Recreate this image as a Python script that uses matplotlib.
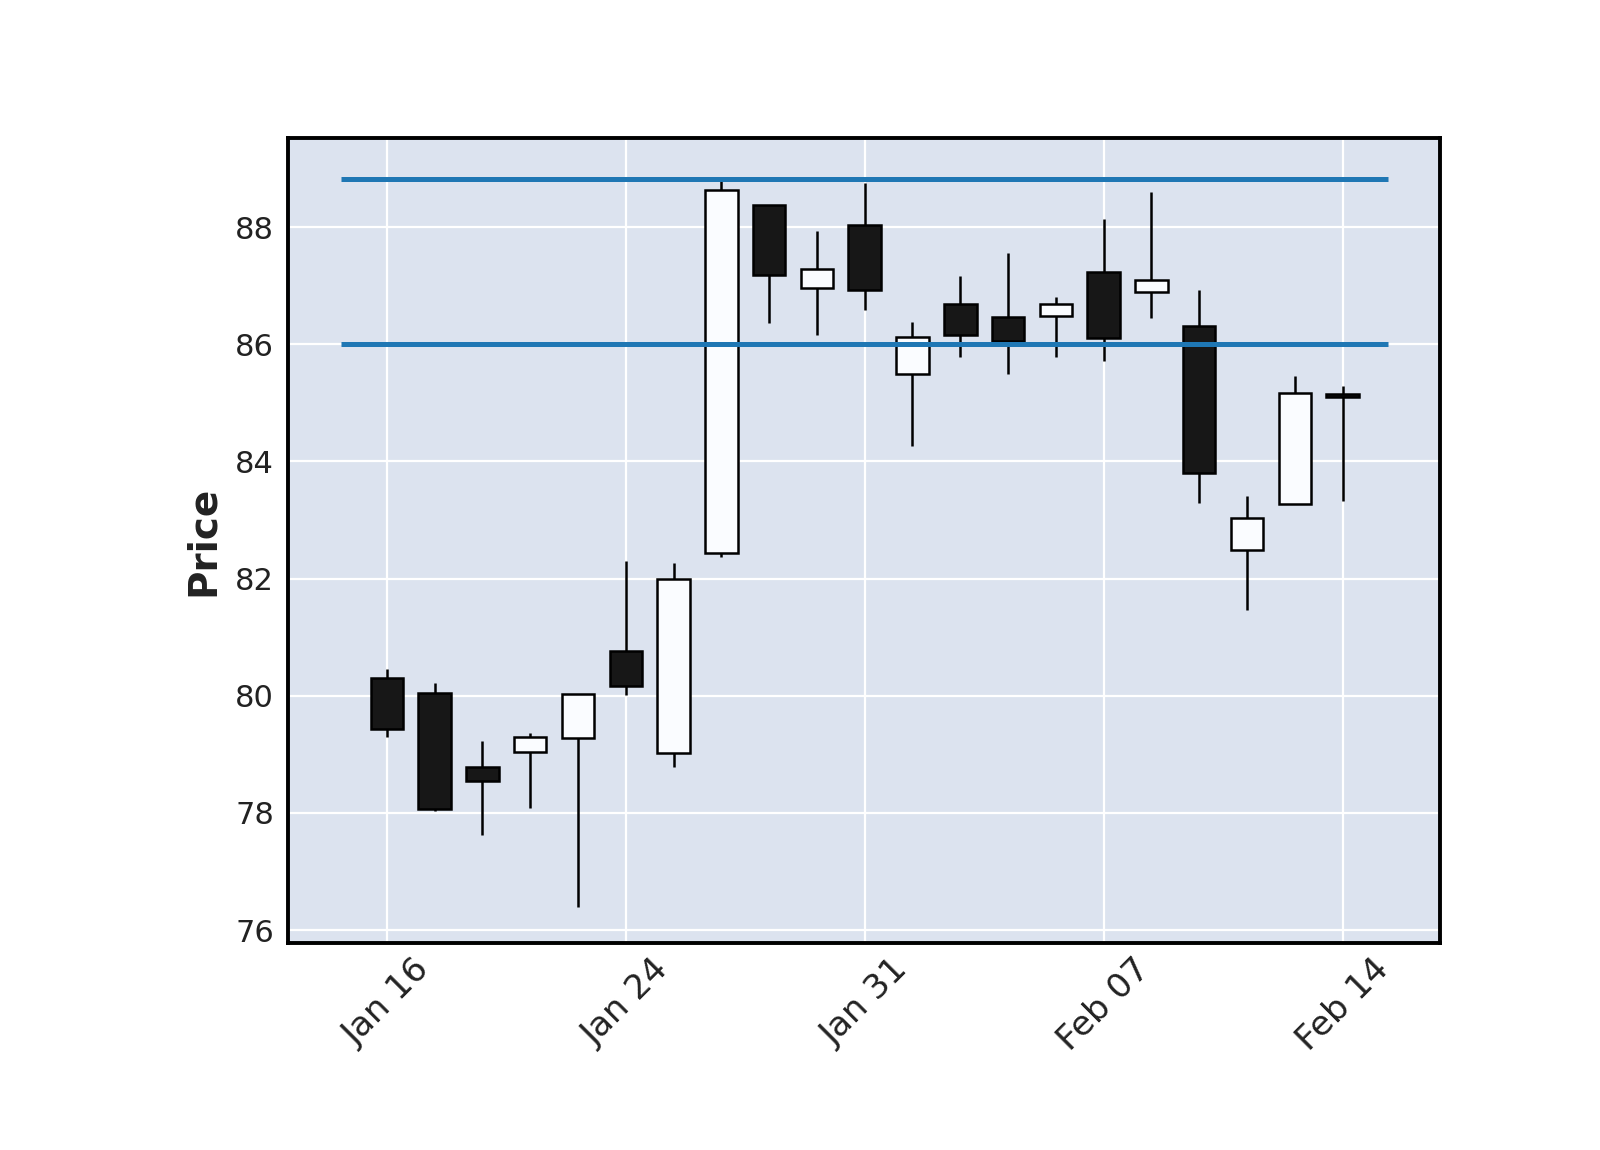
import numpy as np
import pandas as pd
import matplotlib.pyplot as plt

# daily OHLC (trading days only, plotted by index)
dates = ["2018-01-16", "2018-01-17", "2018-01-18", "2018-01-22", "2018-01-23",
         "2018-01-24", "2018-01-25", "2018-01-26", "2018-01-29", "2018-01-30",
         "2018-01-31", "2018-02-01", "2018-02-02", "2018-02-05", "2018-02-06",
         "2018-02-07", "2018-02-08", "2018-02-09", "2018-02-12", "2018-02-13",
         "2018-02-14"]
opens = [80.31, 80.05, 78.79, 79.04, 79.28, 80.76, 79.03, 82.44, 88.38, 86.96,
         88.04, 85.50, 86.69, 86.46, 86.48, 87.24, 86.89, 86.31, 82.49, 83.28, 85.15]
highs = [80.46, 80.21, 79.22, 79.37, 80.03, 82.30, 82.27, 88.80, 88.38, 87.94,
         88.76, 86.38, 87.17, 87.56, 86.81, 88.13, 88.60, 86.93, 83.41, 85.45, 85.28]
lows = [79.29, 78.03, 77.62, 78.08, 76.40, 80.01, 78.79, 82.37, 86.37, 86.15,
        86.58, 84.26, 85.78, 85.49, 85.79, 85.71, 86.44, 83.29, 81.47, 83.28, 83.32]
closes = [79.44, 78.06, 78.54, 79.29, 80.03, 80.17, 82.00, 88.63, 87.19, 87.28,
          86.93, 86.12, 86.16, 86.05, 86.68, 86.11, 87.09, 83.80, 83.04, 85.16, 85.10]
hline_levels = [88.82, 86.00]
tick_every = 5

UP_COLOR = "#fafcff"
DOWN_COLOR = "#171717"
BG_COLOR = "#dce3ef"

opens, highs, lows, closes = map(np.array, (opens, highs, lows, closes))
x = np.arange(len(dates))
up = closes >= opens

fig = plt.figure(figsize=(8, 5.75), dpi=200)
ax = fig.add_axes([0.18, 0.18, 0.72, 0.70])
ax.set_facecolor(BG_COLOR)
ax.set_axisbelow(True)
ax.grid(True, color="white", linewidth=0.8)

# wicks, then bodies on top
ax.vlines(x, lows, highs, color="black", linewidth=0.9, zorder=2)
ax.bar(x, np.abs(closes - opens), bottom=np.minimum(opens, closes), width=0.68,
       color=np.where(up, UP_COLOR, DOWN_COLOR), edgecolor="black",
       linewidth=0.9, zorder=3)

ax.hlines(hline_levels, -0.96, len(dates) - 1 + 0.96, color="#1f77b4",
          linewidth=1.8, zorder=4)

ax.set_xlim(-2.07, len(dates) - 1 + 2.04)
ax.set_ylim(75.78, 89.52)
ax.set_yticks(np.arange(76, 89, 2))
ticks = x[::tick_every]
ax.set_xticks(ticks)
ax.set_xticklabels(pd.to_datetime([dates[i] for i in ticks]).strftime("%b %d"),
                   rotation=45)
ax.tick_params(length=0, labelcolor="#222222")
ax.tick_params(axis="y", pad=5, labelsize=11)
ax.tick_params(axis="x", pad=3.5, labelsize=12.3)
ax.set_ylabel("Price", fontsize=14, fontweight="bold", color="#222222", labelpad=4.6)
for s in ax.spines.values():
    s.set_linewidth(1.4)
    s.set_color("black")

fig.savefig("out.png", dpi=200)
